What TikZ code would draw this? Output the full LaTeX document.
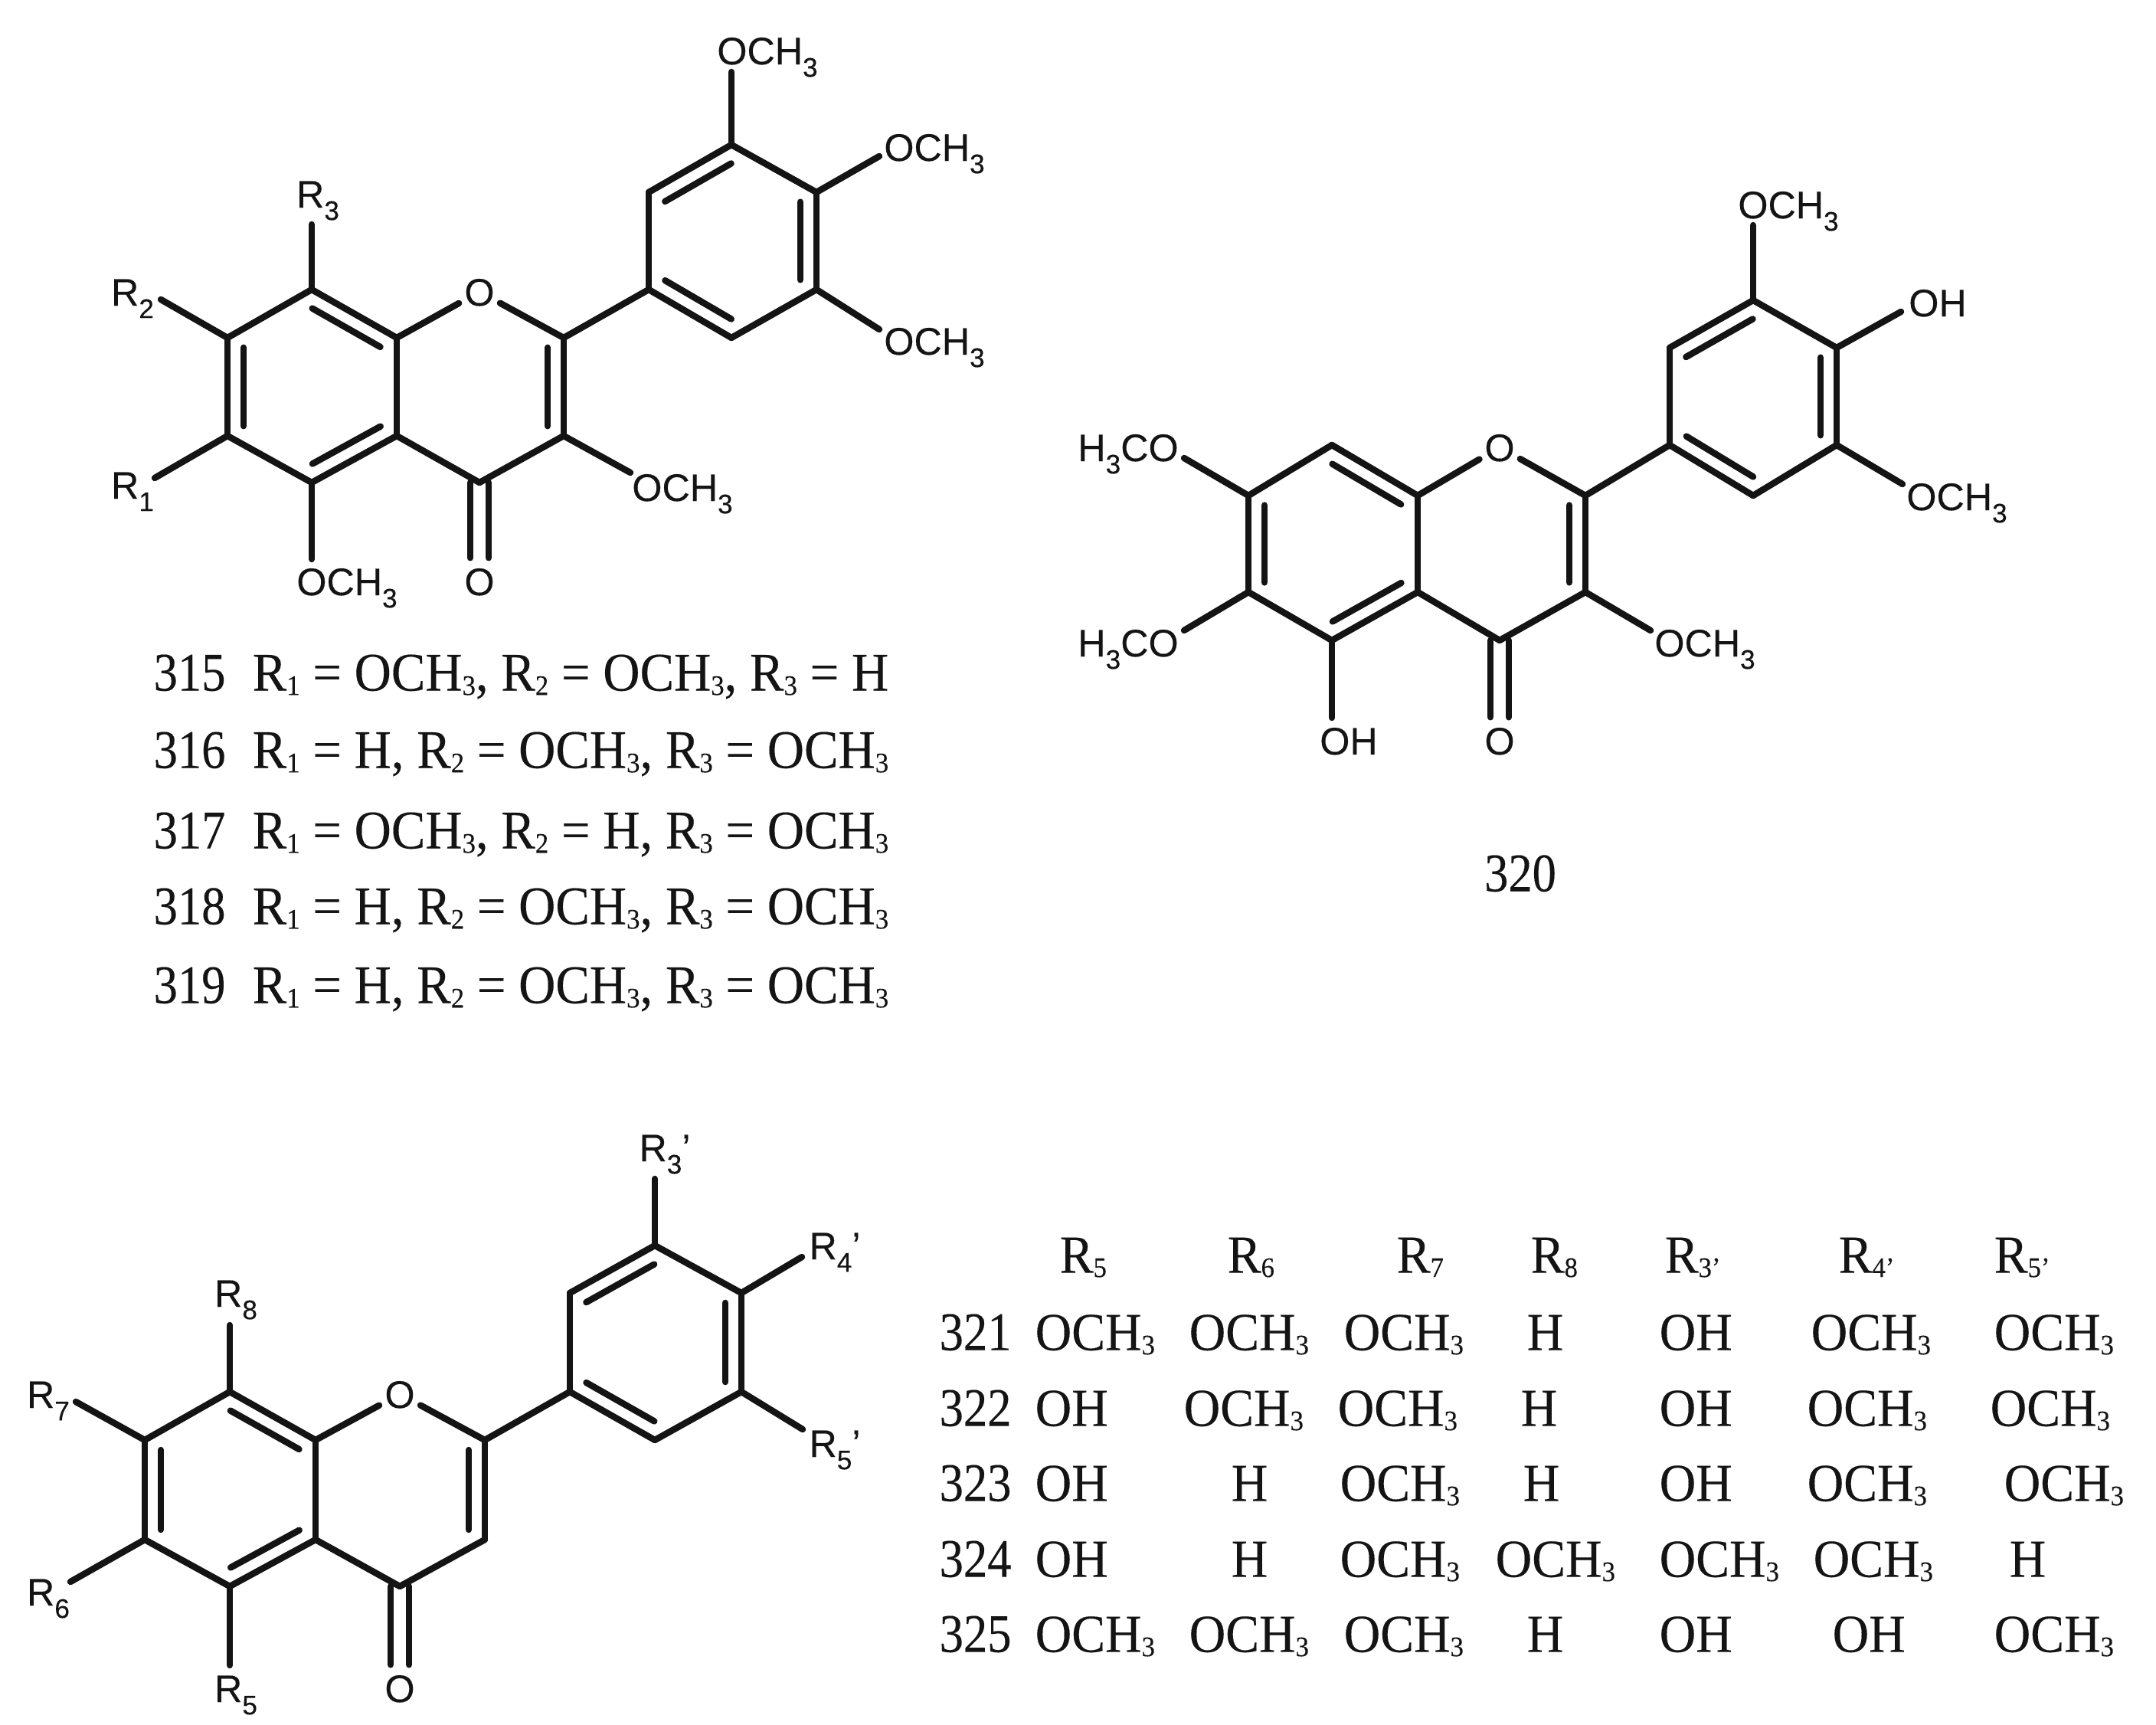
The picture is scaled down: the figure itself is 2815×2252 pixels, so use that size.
\documentclass[tikz,border=0pt]{standalone}
\usepackage{fontspec}
\setmainfont[FakeStretch=.94,FakeBold=.2]{Liberation Serif}
\setsansfont[FakeBold=.25]{Liberation Sans}
\newfontfamily\condfont[FakeStretch=.88,FakeBold=.2]{Liberation Serif}
\usetikzlibrary{calc,positioning}
\definecolor{ink}{HTML}{141414}
\tikzset{
  %Define style for bonds
  bond/.style={draw=ink, line width=2.4pt, line cap=round},
  %Define style for labels on the molecules
  chem/.style={inner sep=0pt, text=ink, text height=10.3pt, text depth=0pt,
    font=\sffamily\fontsize{14.3}{17}\selectfont},
  oxy/.style={chem, circle, minimum size=.6cm},
  % Define style for the printed lists
  lst/.style={anchor=west, inner sep=0pt, text=ink, text height=13.4pt, text depth=0pt,
    font=\fontsize{20.2}{24}\selectfont},
  num/.style={lst, font=\condfont\fontsize{20.2}{24}\selectfont},
  cell/.style={lst, font=\fontsize{19.9}{24}\selectfont}
}
\newcommand{\csb}[1]{\raisebox{-.32em}{\fontsize{10}{10}\selectfont #1}}
\newcommand{\tsb}[1]{\raisebox{-.08em}{\fontsize{10.5}{10}\selectfont #1}}
\newcommand{\och}{OCH\tsb{3}}
\newcommand{\dbl}[2]{\draw[bond] ($(#1)!.1!(#2)!.21cm!90:(#2)$) -- ($(#2)!.1!(#1)!.21cm!-90:(#1)$);}
\begin{document}
\begin{tikzpicture}[x=.01cm,y=-.01cm]
  \useasboundingbox (0,0) rectangle (2815,2252);
  % atoms of the three skeletons
  \foreach \n/\x/\y in {a8/407/378,a7/297/441,a6/297/569,a5/407/630,b4/518/569,b8/518/441,
    c2/736/441,c3/736/569,c4/626/630,d1/847/378,d2/847/251,d3/955/189,d4/1066/251,d5/1066/378,d6/955/441}
    \coordinate (p\n) at (\x,\y);
  \foreach \n/\x/\y in {a8/1739/581,a7/1630/647,a6/1630/773,a5/1739/836,b4/1851/773,b8/1851/647,
    c2/2070/647,c3/2070/773,c4/1958/836,d1/2180/581,d2/2180/454,d3/2289/392,d4/2398/454,d5/2398/581,d6/2289/647}
    \coordinate (q\n) at (\x,\y);
  \foreach \n/\x/\y in {a8/300/1817,a7/189/1880,a6/189/2010,a5/300/2071,b4/412/2010,b8/412/1880,
    c2/633/1880,c3/633/2010,c4/522/2071,d1/744/1817,d2/744/1688,d3/855/1626,d4/968/1688,d5/968/1817,d6/855/1880}
    \coordinate (r\n) at (\x,\y);
  \node[oxy] (po) at (626,381) {O};
  \node[oxy] (pk) at (626,759) {O};
  \node[oxy] (qo) at (1958,584) {O};
  \node[oxy] (qk) at (1958,967) {O};
  \node[oxy] (ro) at (522,1820) {O};
  \node[oxy] (rk) at (522,2204) {O};
  % ring bonds
  \foreach \m in {p,q,r}{
    \foreach \a/\b in {a8/a7,a7/a6,a6/a5,a5/b4,b4/b8,b8/a8,b4/c4,c4/c3,c3/c2,c2/d1,d1/d2,d2/d3,d3/d4,d4/d5,d5/d6,d6/d1}
      \draw[bond] (\m\a) -- (\m\b);
    \draw[bond] (\m b8) -- (\m o);
    \draw[bond] (\m o) -- (\m c2);
    \dbl{\m a7}{\m a6}
    \dbl{\m a5}{\m b4}
    \dbl{\m b8}{\m a8}
    \dbl{\m c3}{\m c2}
    \dbl{\m d3}{\m d2}
    \dbl{\m d1}{\m d6}
    \dbl{\m d5}{\m d4}
    \draw[bond] ([xshift=-.12cm]\m c4) -- ([xshift=-.12cm]\m k.north);
    \draw[bond] ([xshift=.12cm]\m c4) -- ([xshift=.12cm]\m k.north);
  }
  % substituents, each with its label and the free end of its bond
  \foreach \n/\lx/\ly/\t/\a/\x/\y in {
    pr3/415/253/{R\csb{3}}/pa8/407/293,
    pr2/173/381/{R\csb{2}}/pa7/210/391,
    pr1/173/633/{R\csb{1}}/pa6/202/624,
    pm5/453/759/{OCH\csb{3}}/pa5/407/730,
    pm3/891/636/{OCH\csb{3}}/pc3/823/617,
    pt3/1002/66/{OCH\csb{3}}/pd3/955/94,
    pt4/1220/192/{OCH\csb{3}}/pd4/1148/204,
    pt5/1220/445/{OCH\csb{3}}/pd5/1148/430,
    qm7/1473/584/{H\csb{3}CO}/qa7/1546/598,
    qm6/1473/839/{H\csb{3}CO}/qa6/1546/823,
    qh5/1761/967/{OH}/qa5/1739/937,
    qm3/2226/839/{OCH\csb{3}}/qc3/2155/823,
    qt3/2335/267/{OCH\csb{3}}/qd3/2289/294,
    qh4/2530/395/{OH}/qd4/2482/407,
    qt5/2555/648/{OCH\csb{3}}/qd5/2484/632,
    rr8/308/1688/{R\csb{8}}/ra8/300/1730,
    rr7/63/1820/{R\csb{7}}/ra7/99/1830,
    rr6/63/2078/{R\csb{6}}/ra6/92/2065,
    rr5/308/2204/{R\csb{5}}/ra5/300/2174,
    rt3/868/1498/{R\csb{3}'}/rd3/855/1539,
    rt4/1090/1626/{R\csb{4}'}/rd4/1047/1641,
    rt5/1090/1884/{R\csb{5}'}/rd5/1048/1866}{
    \node[chem] (\n) at (\lx,\ly) {\t};
    \coordinate (\n e) at (\x,\y);
    \draw[bond] (\a) -- (\n e);
  }
  % compounds 315 to 319
  \foreach \y/\n/\t in {
    878/315/{R\tsb{1} = \och, R\tsb{2} = \och, R\tsb{3} = H},
    979/316/{R\tsb{1} = H, R\tsb{2} = \och, R\tsb{3} = \och},
    1084/317/{R\tsb{1} = \och, R\tsb{2} = H, R\tsb{3} = \och},
    1183/318/{R\tsb{1} = H, R\tsb{2} = \och, R\tsb{3} = \och},
    1286/319/{R\tsb{1} = H, R\tsb{2} = \och, R\tsb{3} = \och}}{
    \node[num] (n\n) at (200,\y) {\n};
    \node[lst] (l\n) at (329,\y) {\t};
  }
  \node[num, anchor=center] (n320) at (1985,1140) {320};
  % table of 321 to 325
  \foreach \x/\t [count=\i] in {1383/R\tsb{5},1602/R\tsb{6},1823/R\tsb{7},1998/R\tsb{8},
    2173/R\tsb{3'},2400/R\tsb{4'},2603/R\tsb{5'}}
    \node[cell] (h\i) at (\x,1638) {\t};
  \foreach \y/\n/\row in {
    1739/321/{1351/\och,1552/\och,1754/\och,1993/H,2166/OH,2364/\och,2603/\och},
    1838/322/{1351/OH,1545/\och,1746/\och,1985/H,2166/OH,2359/\och,2598/\och},
    1936/323/{1351/OH,1607/H,1749/\och,1988/H,2166/OH,2359/\och,2616/\och},
    2035/324/{1351/OH,1607/H,1749/\och,1952/\och,2166/\och,2367/\och,2623/H},
    2133/325/{1351/\och,1552/\och,1754/\och,1993/H,2166/OH,2392/OH,2603/\och}}{
    \node[num] (n\n) at (1226,\y) {\n};
    \foreach \x/\t [count=\i] in \row
      \node[cell] (c\n-\i) at (\x,\y) {\t};
  }
\end{tikzpicture}
\end{document}
